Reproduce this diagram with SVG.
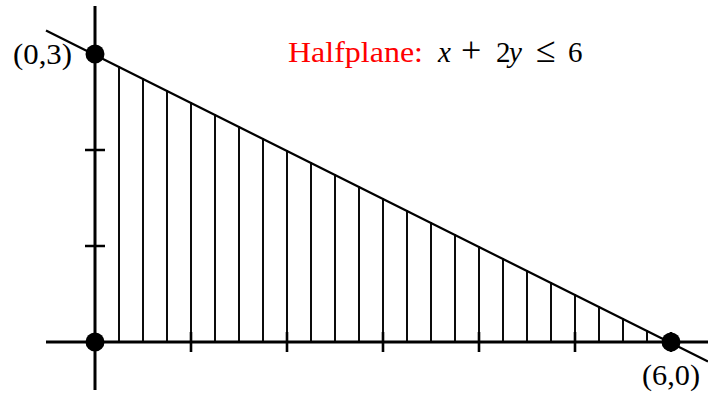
<svg xmlns="http://www.w3.org/2000/svg" width="708" height="395" viewBox="0 0 708 395">
<style>
.axis{stroke:#000;stroke-width:3;fill:none}
.tick{stroke:#000;stroke-width:2.6;fill:none}
.hatch{stroke:#000;stroke-width:1.9;fill:none}
.bound{stroke:#000;stroke-width:2.2;fill:none}
.dot{fill:#000}
.lbl{font-family:'Liberation Serif','DejaVu Serif',serif;font-size:29px;fill:#000}
.red{fill:#ff0000}
.it{font-style:italic}
.op{font-size:36px}
</style>
<rect width="708" height="395" fill="#fff"/>
<g id="hatching">
<path class="hatch" d="M119 342V66 M143 342V78 M167 342V90 M191 342V102 M215 342V114 M239 342V126 M263 342V138 M287 342V150 M311 342V162 M335 342V174 M359 342V186 M383 342V198 M407 342V210 M431 342V222 M455 342V234 M479 342V246 M503 342V258 M527 342V270 M551 342V282 M575 342V294 M599 342V306 M623 342V318 M647 342V330"/>
</g>
<g id="axes">
<line class="axis" x1="95" y1="6" x2="95" y2="390"/>
<line class="axis" x1="46" y1="342" x2="708" y2="342"/>
<path class="tick" d="M191 332V352 M287 332V352 M383 332V352 M479 332V352 M575 332V352 M671 332V352 M85 150H105 M85 246H105"/>
</g>
<g id="connectors">
<line class="bound" x1="46" y1="30.5" x2="708" y2="361.5"/>
</g>
<g id="p03">
<circle class="dot" cx="95" cy="54" r="9.5"/>
<text class="lbl" x="13" y="64" textLength="59" lengthAdjust="spacingAndGlyphs">(0,3)</text>
</g>
<g id="p60">
<circle class="dot" cx="671" cy="342" r="9.5"/>
<text class="lbl" x="642" y="385" textLength="58" lengthAdjust="spacingAndGlyphs">(6,0)</text>
</g>
<g id="origin">
<circle class="dot" cx="95" cy="342" r="9.5"/>
</g>
<g id="title">
<text class="lbl red" x="288" y="62" font-size="30" textLength="135" lengthAdjust="spacingAndGlyphs">Halfplane:</text>
<text class="lbl" y="62" font-size="30"><tspan class="it" x="438">x</tspan><tspan class="op" x="461">+</tspan><tspan x="496">2</tspan><tspan class="it" x="509">y</tspan><tspan class="op" x="536">≤</tspan><tspan x="568">6</tspan></text>
</g>
</svg>
